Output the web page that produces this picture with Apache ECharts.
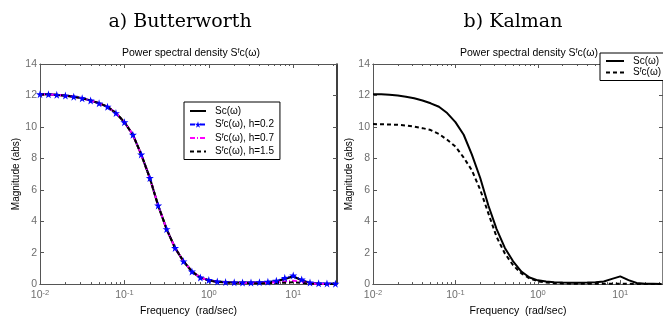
<!DOCTYPE html>
<html>
<head>
<meta charset="utf-8">
<script src="https://cdn.jsdelivr.net/npm/echarts@6/dist/echarts.min.js"></script>
<style>
  html, body { margin: 0; padding: 0; background: #fff; }
  #chart { width: 663px; height: 322px; }
</style>
</head>
<body>
<div id="chart"></div>
<script>
// frequency grid (rad/sec), 0.1 decade steps
const freq = [0.01, 0.0126, 0.0158, 0.02, 0.0251, 0.0316, 0.0398, 0.0501, 0.0631, 0.0794,
  0.1, 0.126, 0.158, 0.2, 0.251, 0.316, 0.398, 0.501, 0.631, 0.794,
  1, 1.26, 1.58, 2, 2.51, 3.16, 3.98, 5.01, 6.31, 7.94,
  10, 12.6, 15.8, 20, 25.1, 31.6];

// true spectrum Sc(w)
const scTrue = [12.08, 12.07, 12.04, 11.99, 11.92, 11.82, 11.68, 11.5, 11.28, 10.88,
  10.3, 9.5, 8.25, 6.75, 5.0, 3.5, 2.3, 1.45, 0.8, 0.42,
  0.24, 0.16, 0.12, 0.1, 0.09, 0.09, 0.1, 0.12, 0.17, 0.33,
  0.49, 0.25, 0.07, 0.03, 0.02, 0.01];

// Butterworth filtered spectra for three h values
const sfH02 = [12.08, 12.07, 12.04, 11.99, 11.92, 11.82, 11.68, 11.5, 11.28, 10.88,
  10.3, 9.5, 8.25, 6.75, 5.0, 3.5, 2.3, 1.45, 0.8, 0.42,
  0.26, 0.17, 0.13, 0.11, 0.1, 0.1, 0.12, 0.15, 0.22, 0.4,
  0.55, 0.3, 0.1, 0.05, 0.04, 0.03];
const sfH07 = [12.08, 12.07, 12.04, 11.99, 11.92, 11.82, 11.68, 11.5, 11.28, 10.88,
  10.3, 9.5, 8.25, 6.75, 5.0, 3.5, 2.3, 1.45, 0.8, 0.42,
  0.24, 0.15, 0.11, 0.09, 0.08, 0.08, 0.08, 0.09, 0.11, 0.16,
  0.22, 0.12, 0.05, 0.02, 0.01, 0.01];
const sfH15 = [12.08, 12.07, 12.04, 11.99, 11.92, 11.82, 11.68, 11.5, 11.28, 10.88,
  10.3, 9.5, 8.25, 6.75, 5.0, 3.5, 2.3, 1.45, 0.8, 0.42,
  0.23, 0.14, 0.1, 0.08, 0.07, 0.06, 0.06, 0.06, 0.07, 0.09,
  0.12, 0.07, 0.03, 0.02, 0.01, 0.01];

// Kalman filtered spectrum
const sfKalman = [10.18, 10.17, 10.15, 10.13, 10.09, 10.02, 9.92, 9.8, 9.55, 9.18,
  8.75, 8.05, 7.25, 6.0, 4.5, 3.0, 1.95, 1.2, 0.68, 0.36,
  0.18, 0.1, 0.06, 0.04, 0.03, 0.03, 0.02, 0.02, 0.02, 0.02,
  0.03, 0.02, 0.01, 0.01, 0.01, 0.01];

const majorTicks = [0.01, 0.1, 1, 10];
const minorTicks = [0.02, 0.03, 0.04, 0.05, 0.06, 0.07, 0.08, 0.09,
  0.2, 0.3, 0.4, 0.5, 0.6, 0.7, 0.8, 0.9,
  2, 3, 4, 5, 6, 7, 8, 9, 20, 30];

const chart = echarts.init(document.getElementById('chart'), null, { renderer: 'canvas' });

const SANS = 'Liberation Sans';
const AXIS_GREY = '#555';
const LABEL_GREY = '#6e6e6e';
const STAR = 'path://M50,0 L61,35 L98,35 L68,57 L79,91 L50,70 L21,91 L32,57 L2,35 L39,35 Z';

const pairs = (ys) => freq.map((f, i) => [f, ys[i]]);
const textRich = (size) => ({
  p: { fontFamily: SANS, fontSize: size, fontWeight: 'normal', color: '#000', padding: [0, 0, 0, 4] },
  t: { fontFamily: SANS, fontSize: size, fontWeight: 'normal', color: '#000' },
  s: { fontFamily: SANS, fontSize: 7, fontWeight: 'normal', color: '#000', verticalAlign: 'top', padding: [0, 0, 4, 0] }
});

function xAxesFor(gridIndex) {
  const base = {
    type: 'log', logBase: 10, min: 0.01, max: 33, gridIndex,
    axisLine: { show: true, lineStyle: { color: AXIS_GREY, width: 1 } },
    splitLine: { show: false }
  };
  return [
    {
      ...base, position: 'bottom',
      axisTick: { inside: true, length: 4, customValues: majorTicks, lineStyle: { color: AXIS_GREY } },
      axisLabel: {
        customValues: majorTicks, margin: 5, color: LABEL_GREY,
        formatter: (v) => '{b|10}{e|' + Math.round(Math.log10(v)) + '}',
        rich: {
          b: { fontFamily: SANS, fontSize: 10.5, color: LABEL_GREY },
          e: { fontFamily: SANS, fontSize: 7.5, color: LABEL_GREY, verticalAlign: 'top', padding: [0, 0, 5, 0] }
        }
      },
      name: 'Frequency  (rad/sec)', nameLocation: 'middle', nameGap: 13,
      nameTextStyle: { fontFamily: SANS, fontSize: 10.5, color: '#000' }
    },
    {
      ...base, position: 'bottom',
      axisTick: { inside: true, length: 2, customValues: minorTicks, lineStyle: { color: AXIS_GREY } },
      axisLabel: { show: false }
    },
    {
      ...base, position: 'top',
      axisTick: { inside: true, length: 4, customValues: majorTicks, lineStyle: { color: AXIS_GREY } },
      axisLabel: { show: false }
    },
    {
      ...base, position: 'top',
      axisTick: { inside: true, length: 2, customValues: minorTicks, lineStyle: { color: AXIS_GREY } },
      axisLabel: { show: false }
    }
  ];
}

function yAxesFor(gridIndex, rightColor) {
  const base = {
    type: 'value', min: 0, max: 14, interval: 2, gridIndex,
    axisLine: { show: true, lineStyle: { color: AXIS_GREY, width: 1 } },
    axisTick: { show: true, inside: true, length: 4, lineStyle: { color: AXIS_GREY } },
    splitLine: { show: false }
  };
  return [
    {
      ...base, position: 'left',
      axisLabel: { color: LABEL_GREY, fontFamily: SANS, fontSize: 10.5, margin: 3 },
      name: 'Magnitude (abs)', nameLocation: 'middle', nameGap: 17, nameRotate: 90,
      nameTextStyle: { fontFamily: SANS, fontSize: 10, color: '#000' }
    },
    { ...base, position: 'right', axisLabel: { show: false },
      axisLine: { show: true, lineStyle: { color: rightColor, width: 1.5 } } }
  ];
}

const legendFmt = {
  'Sc': '{p|Sc(ω)}',
  'h02': '{p|S}{s|f}{t|c(ω), h=0.2}',
  'h07': '{p|S}{s|f}{t|c(ω), h=0.7}',
  'h15': '{p|S}{s|f}{t|c(ω), h=1.5}',
  'ScK': '{p|Sc(ω)}',
  'K': '{p|S}{s|f}{t|c(ω)}'
};
const noMarker = { opacity: 0 };

chart.setOption({
  animation: false,
  backgroundColor: '#fff',
  title: [
    { text: 'a) Butterworth', left: 175, top: 8, textAlign: 'center',
      textStyle: { fontFamily: 'DejaVu Serif', fontSize: 19, fontWeight: 'normal', color: '#000' } },
    { text: 'b) Kalman', left: 508, top: 8, textAlign: 'center',
      textStyle: { fontFamily: 'DejaVu Serif', fontSize: 19, fontWeight: 'normal', color: '#000' } },
    { text: '{t|Power spectral density S}{s|f}{t|c(ω)}', left: 186, top: 43, textAlign: 'center',
      textStyle: { rich: textRich(10.5) } },
    { text: '{t|Power spectral density S}{s|f}{t|c(ω)}', left: 524, top: 43, textAlign: 'center',
      textStyle: { rich: textRich(10.5) } }
  ],
  grid: [
    { left: 40, top: 64, width: 297, height: 227 },
    { left: 373, top: 64, width: 299, height: 227 }
  ],
  xAxis: [...xAxesFor(0), ...xAxesFor(1)],
  yAxis: [...yAxesFor(0, '#000'), ...yAxesFor(1, AXIS_GREY)],
  legend: [
    {
      data: [
        { name: 'Sc', itemStyle: noMarker },
        { name: 'h02' },
        { name: 'h07', itemStyle: noMarker },
        { name: 'h15', itemStyle: noMarker }
      ],
      orient: 'vertical', left: 184, top: 102,
      padding: [4, 6, 3, 5], itemGap: 3, itemWidth: 16, itemHeight: 8,
      borderColor: '#000', borderWidth: 1, backgroundColor: '#fff',
      formatter: (n) => legendFmt[n],
      textStyle: { rich: textRich(10) }
    },
    {
      data: [
        { name: 'ScK', itemStyle: noMarker },
        { name: 'K', itemStyle: noMarker }
      ],
      orient: 'vertical', left: 600, top: 53,
      padding: [3, 5, 3, 5], itemGap: 1, itemWidth: 18, itemHeight: 8,
      borderColor: '#000', borderWidth: 1, backgroundColor: '#fff',
      formatter: (n) => legendFmt[n],
      textStyle: { rich: textRich(10) }
    }
  ],
  series: [
    { name: 'Sc', type: 'line', xAxisIndex: 0, yAxisIndex: 0, data: pairs(scTrue),
      symbol: 'none', lineStyle: { color: '#000', width: 2.2 }, itemStyle: { color: '#000' } },
    { name: 'h02', type: 'line', xAxisIndex: 0, yAxisIndex: 0, data: pairs(sfH02),
      symbol: STAR, symbolSize: 8, showAllSymbol: true,
      lineStyle: { color: '#0000ff', width: 1.5, type: [5, 2, 1, 2] }, itemStyle: { color: '#0000ff' } },
    { name: 'h07', type: 'line', xAxisIndex: 0, yAxisIndex: 0, data: pairs(sfH07),
      symbol: 'none', lineStyle: { color: '#ff00ff', width: 2, type: [5, 2, 1, 2] }, itemStyle: { color: '#ff00ff' } },
    { name: 'h15', type: 'line', xAxisIndex: 0, yAxisIndex: 0, data: pairs(sfH15),
      symbol: 'none', lineStyle: { color: '#000', width: 2, type: [4, 3] }, itemStyle: { color: '#000' } },
    { name: 'ScK', type: 'line', xAxisIndex: 4, yAxisIndex: 2, data: pairs(scTrue),
      symbol: 'none', lineStyle: { color: '#000', width: 2 }, itemStyle: { color: '#000' } },
    { name: 'K', type: 'line', xAxisIndex: 4, yAxisIndex: 2, data: pairs(sfKalman),
      symbol: 'none', lineStyle: { color: '#000', width: 2, type: [4, 3] }, itemStyle: { color: '#000' } }
  ]
});

window.addEventListener('resize', () => chart.resize());
</script>
</body>
</html>
